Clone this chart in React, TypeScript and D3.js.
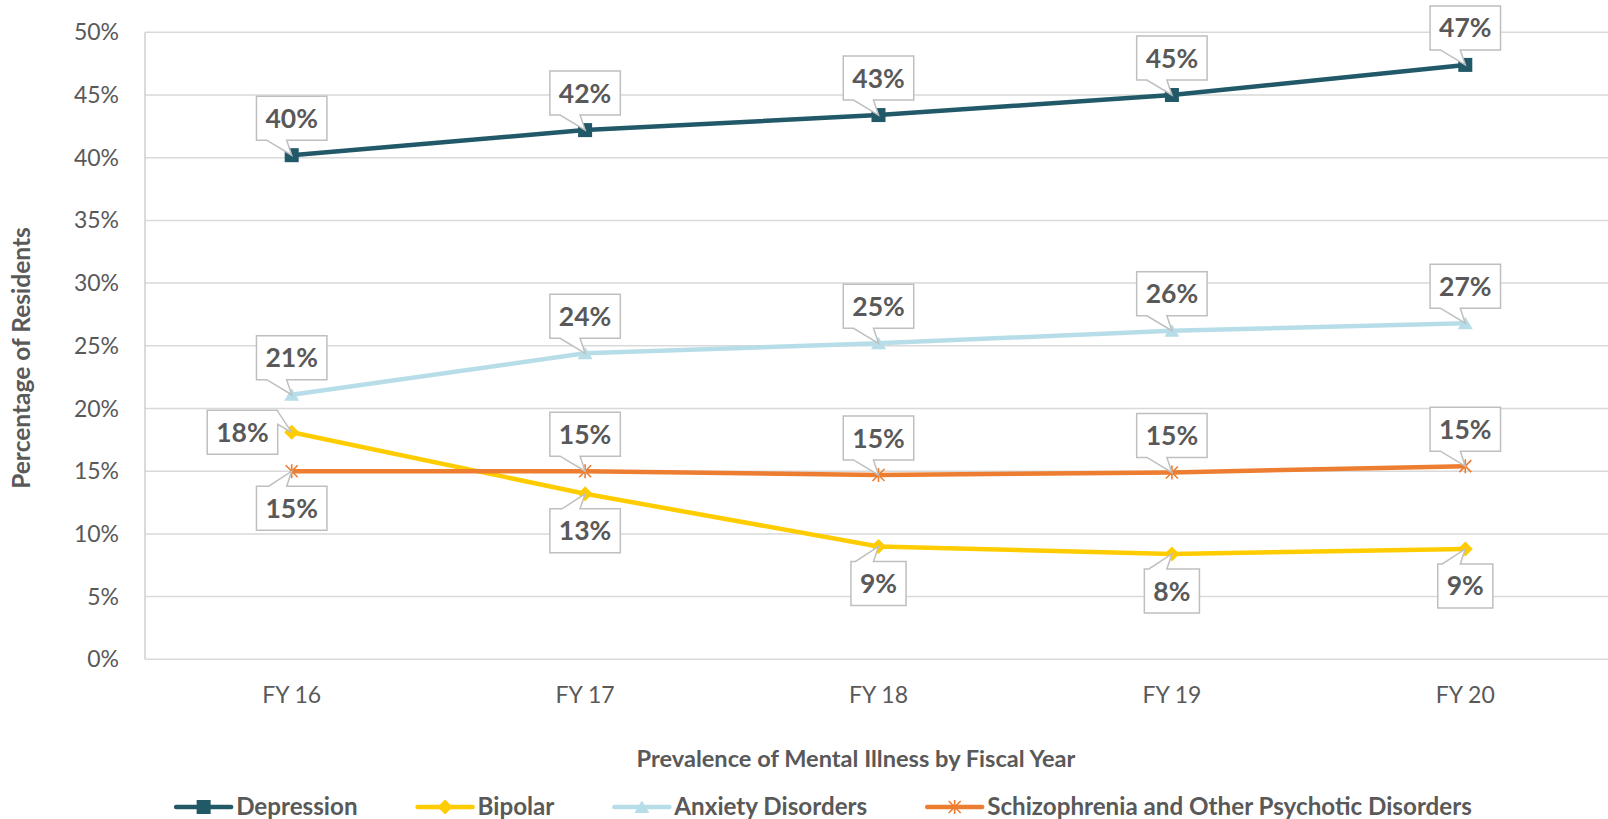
import React, { useEffect, useRef } from "react";
import * as d3 from "d3";

// Fiscal years on the x axis
const years = ["FY 16", "FY 17", "FY 18", "FY 19", "FY 20"];

// Share of residents (%) per condition and year
const depression = [40.2, 42.2, 43.4, 45.0, 47.4];
const bipolar = [18.1, 13.2, 9.0, 8.4, 8.8];
const anxiety = [21.1, 24.4, 25.2, 26.2, 26.8];
const schizophrenia = [15.0, 15.0, 14.7, 14.9, 15.4];

// Y axis ticks (%)
const yTicks = [0, 5, 10, 15, 20, 25, 30, 35, 40, 45, 50];

const seriesNames = [
  "Depression",
  "Bipolar",
  "Anxiety Disorders",
  "Schizophrenia and Other Psychotic Disorders",
];

// Where each callout sits relative to its point
const depressionLabelSide = ["above", "above", "above", "above", "above"];
const bipolarLabelSide = ["left", "below", "below", "below", "below"];
const anxietyLabelSide = ["above", "above", "above", "above", "above"];
const schizophreniaLabelSide = ["below", "above", "above", "above", "above"];

const W = 1608;
const H = 819;
const FONT = "Lato, 'Open Sans', 'DejaVu Sans', sans-serif";
const TEXT = "#595959";

type Kind = "square" | "diamond" | "triangle" | "star";

function drawMarker(
  g: d3.Selection<SVGGElement, unknown, null, undefined>,
  kind: Kind,
  color: string,
  x: number,
  y: number
) {
  if (kind === "square") {
    g.append("rect")
      .attr("x", x - 7)
      .attr("y", y - 7)
      .attr("width", 14)
      .attr("height", 14)
      .attr("fill", color);
  } else if (kind === "diamond") {
    g.append("path")
      .attr("d", `M${x},${y - 7.5}L${x + 7.5},${y}L${x},${y + 7.5}L${x - 7.5},${y}Z`)
      .attr("fill", color);
  } else if (kind === "triangle") {
    g.append("path")
      .attr("d", `M${x},${y - 6.5}L${x + 7.5},${y + 6}L${x - 7.5},${y + 6}Z`)
      .attr("fill", color);
  } else {
    const r = 6;
    g.append("path")
      .attr(
        "d",
        `M${x - r},${y - r}L${x + r},${y + r}M${x - r},${y + r}L${x + r},${y - r}M${x},${y - r - 1}L${x},${y + r + 1}`
      )
      .attr("stroke", color)
      .attr("stroke-width", 1.6)
      .attr("fill", "none");
  }
}

export default function App() {
  const ref = useRef<SVGSVGElement | null>(null);

  useEffect(() => {
    const svg = d3.select(ref.current as SVGSVGElement);
    svg.selectAll("*").remove();

    const left = 145;
    const right = 1612;
    const top = 32.3;
    const bottom = 659.3;

    const x = d3.scalePoint<string>().domain(years).range([left, right]).padding(0.5);
    const y = d3.scaleLinear().domain([0, 50]).range([bottom, top]);
    const pct = d3.format(".0%");

    const series = [
      { name: seriesNames[0], values: depression, color: "#215968", kind: "square" as Kind, sides: depressionLabelSide },
      { name: seriesNames[1], values: bipolar, color: "#FFCC00", kind: "diamond" as Kind, sides: bipolarLabelSide },
      { name: seriesNames[2], values: anxiety, color: "#B7DEE8", kind: "triangle" as Kind, sides: anxietyLabelSide },
      { name: seriesNames[3], values: schizophrenia, color: "#ED7D31", kind: "star" as Kind, sides: schizophreniaLabelSide },
    ];

    // Gridlines
    const grid = svg.append("g");
    grid
      .selectAll("line")
      .data(yTicks)
      .join("line")
      .attr("x1", left)
      .attr("x2", W)
      .attr("y1", (d) => y(d))
      .attr("y2", (d) => y(d))
      .attr("stroke", "#d9d9d9")
      .attr("stroke-width", 1.5);

    // Left axis line
    svg
      .append("line")
      .attr("x1", left)
      .attr("x2", left)
      .attr("y1", top)
      .attr("y2", bottom)
      .attr("stroke", "#cfcfcf")
      .attr("stroke-width", 1.5);

    // Y tick labels
    svg
      .append("g")
      .selectAll("text")
      .data(yTicks)
      .join("text")
      .attr("x", 119)
      .attr("y", (d) => y(d))
      .attr("dy", "0.35em")
      .attr("text-anchor", "end")
      .attr("font-family", FONT)
      .attr("font-size", 23)
      .attr("fill", TEXT)
      .text((d) => pct(d / 100));

    // X tick labels
    svg
      .append("g")
      .selectAll("text")
      .data(years)
      .join("text")
      .attr("x", (d) => x(d) as number)
      .attr("y", 695)
      .attr("dy", "0.35em")
      .attr("text-anchor", "middle")
      .attr("font-family", FONT)
      .attr("font-size", 23)
      .attr("fill", TEXT)
      .text((d) => d);

    // Axis titles
    svg
      .append("text")
      .attr("transform", `translate(21,358) rotate(-90)`)
      .attr("dy", "0.35em")
      .attr("text-anchor", "middle")
      .attr("font-family", FONT)
      .attr("font-weight", "bold")
      .attr("font-size", 24.5)
      .attr("fill", TEXT)
      .text("Percentage of Residents");

    svg
      .append("text")
      .attr("x", 856)
      .attr("y", 759)
      .attr("dy", "0.35em")
      .attr("text-anchor", "middle")
      .attr("font-family", FONT)
      .attr("font-weight", "bold")
      .attr("font-size", 23.6)
      .attr("fill", TEXT)
      .text("Prevalence of Mental Illness by Fiscal Year");

    // Lines and markers
    const line = d3
      .line<number>()
      .x((_, i) => x(years[i]) as number)
      .y((d) => y(d));

    series.forEach((s) => {
      const g = svg.append("g");
      g.append("path")
        .attr("d", line(s.values) as string)
        .attr("fill", "none")
        .attr("stroke", s.color)
        .attr("stroke-width", 4.5)
        .attr("stroke-linejoin", "round");
      s.values.forEach((v, i) => drawMarker(g, s.kind, s.color, x(years[i]) as number, y(v)));
    });

    // Callout data labels
    const labels = svg.append("g");
    series.forEach((s) => {
      s.values.forEach((v, i) => {
        const mx = x(years[i]) as number;
        const my = y(v);
        const g = labels.append("g");
        const path = g.append("path");
        const t = g
          .append("text")
          .attr("text-anchor", "middle")
          .attr("dy", "0.36em")
          .attr("font-family", FONT)
          .attr("font-weight", "bold")
          .attr("font-size", 26.5)
          .attr("fill", TEXT)
          .text(pct(v / 100));
        const tw = (t.node() as SVGTextElement).getComputedTextLength();
        const bw = tw + 18;
        const bh = 44;
        const side = s.sides[i];
        let cx = mx;
        let cy = my;
        let d = "";
        if (side === "above") {
          const bb = my - 15;
          const bt = bb - bh;
          const bl = mx - bw / 2;
          const br = mx + bw / 2;
          cy = (bt + bb) / 2;
          d = `M${bl},${bt}H${br}V${bb}H${mx - 5}L${mx},${my}L${mx - 25},${bb}H${bl}Z`;
        } else if (side === "below") {
          const bt = my + 15;
          const bb = bt + bh;
          const bl = mx - bw / 2;
          const br = mx + bw / 2;
          cy = (bt + bb) / 2;
          d = `M${bl},${bt}H${mx - 23}L${mx},${my}L${mx - 5},${bt}H${br}V${bb}H${bl}Z`;
        } else {
          const br = mx - 14;
          const bl = br - bw;
          const bt = my - bh / 2;
          const bb = my + bh / 2;
          cx = (bl + br) / 2;
          d = `M${bl},${bt}H${br}V${bt + 1}L${mx},${my}L${br},${bt + 14}V${bb}H${bl}Z`;
        }
        path
          .attr("d", d)
          .attr("fill", "#ffffff")
          .attr("stroke", "#bfbfbf")
          .attr("stroke-width", 1.5);
        t.attr("x", cx).attr("y", cy);
      });
    });

    // Legend
    const legend = svg.append("g");
    const lineLen = 55;
    const gapText = 5;
    const gapItem = 60;
    const ly = 807;
    const items = series.map((s) => {
      const g = legend.append("g");
      const t = g
        .append("text")
        .attr("dy", "0.35em")
        .attr("y", ly)
        .attr("font-family", FONT)
        .attr("font-weight", "bold")
        .attr("font-size", 24.2)
        .attr("fill", TEXT)
        .text(s.name);
      const tw = (t.node() as SVGTextElement).getComputedTextLength();
      return { s, g, t, tw };
    });
    const total =
      items.reduce((a, it) => a + lineLen + gapText + it.tw, 0) + gapItem * (items.length - 1);
    let cursor = 824 - total / 2;
    items.forEach((it) => {
      it.g
        .insert("line", "text")
        .attr("x1", cursor)
        .attr("x2", cursor + lineLen)
        .attr("y1", ly)
        .attr("y2", ly)
        .attr("stroke", it.s.color)
        .attr("stroke-width", 4.5)
        .attr("stroke-linecap", "round");
      drawMarker(it.g, it.s.kind, it.s.color, cursor + lineLen / 2, ly);
      it.t.attr("x", cursor + lineLen + gapText);
      cursor += lineLen + gapText + it.tw + gapItem;
    });
  }, []);

  return (
    <svg
      ref={ref}
      width={W}
      height={H}
      style={{ position: "absolute", left: 0, top: 0, background: "#ffffff" }}
    />
  );
}
